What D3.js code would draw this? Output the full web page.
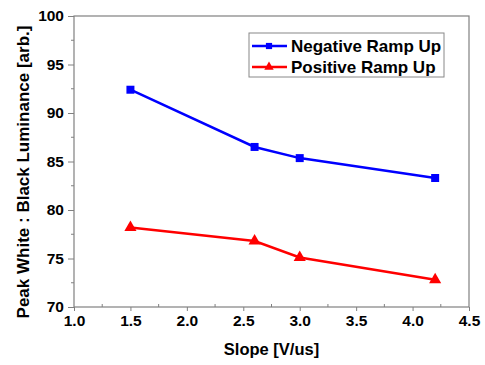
<!DOCTYPE html>
<html lang="en">
<head>
    <meta charset="UTF-8">
    <title>Peak White : Black Luminance</title>
    <style>
        body{margin:0;background:#fff;}
        #main{width:485px;height:365px;}
        text{font-family:Arial,"Liberation Sans",sans-serif;font-weight:bold;fill:#000;}
    </style>
</head>
<body>
<div id="main"></div>
<script src="https://d3js.org/d3.v7.min.js"></script>
<script>
    /*===== data =====*/
    const slopes=[1.5,2.6,3.0,4.2]
    const negativeRampUp=[92.4,86.5,85.35,83.3]
    const positiveRampUp=[78.2,76.8,75.1,72.8]
    const xTicks=[1.0,1.5,2.0,2.5,3.0,3.5,4.0,4.5]
    const yTicks=[70,75,80,85,90,95,100]
    const seriesNames=['Negative Ramp Up','Positive Ramp Up']

    const width=485, height=365
    const plot={left:74,right:469,top:16,bottom:307}

    const svg=d3.select('#main').append('svg')
        .attr('width',width)
        .attr('height',height)
        .attr('viewBox',`0 0 ${width} ${height}`)

    const xScale=d3.scaleLinear().domain([1.0,4.5]).range([plot.left,plot.right])
    const yScale=d3.scaleLinear().domain([70,100]).range([plot.bottom,plot.top])

    const axisColor='#808080'

    /* frame */
    svg.append('rect')
        .attr('x',plot.left).attr('y',plot.top)
        .attr('width',plot.right-plot.left).attr('height',plot.bottom-plot.top)
        .attr('fill','none').attr('stroke',axisColor).attr('stroke-width',1.2)

    /* x axis: major ticks down, minor ticks up */
    const xAxis=svg.append('g')
        .attr('transform',`translate(0,${plot.bottom})`)
        .call(d3.axisBottom(xScale).tickValues(xTicks).tickSize(4).tickPadding(4).tickFormat(d3.format('.1f')))
    xAxis.select('.domain').remove()
    xAxis.selectAll('line').attr('stroke',axisColor)
    xAxis.selectAll('text').style('font-size','15.5px')
    svg.append('g').selectAll('line')
        .data(xTicks.slice(0,-1).map(d=>d+0.25))
        .join('line')
        .attr('x1',d=>xScale(d)).attr('x2',d=>xScale(d))
        .attr('y1',plot.bottom).attr('y2',plot.bottom-3)
        .attr('stroke',axisColor)

    /* y axis: major and minor ticks out */
    const yAxis=svg.append('g')
        .attr('transform',`translate(${plot.left},0)`)
        .call(d3.axisLeft(yScale).tickValues(yTicks).tickSize(6).tickPadding(4))
    yAxis.select('.domain').remove()
    yAxis.selectAll('line').attr('stroke',axisColor)
    yAxis.selectAll('text').style('font-size','15.5px')
    svg.append('g').selectAll('line')
        .data(yTicks.slice(0,-1).map(d=>d+2.5))
        .join('line')
        .attr('x1',plot.left).attr('x2',plot.left-3)
        .attr('y1',d=>yScale(d)).attr('y2',d=>yScale(d))
        .attr('stroke',axisColor)

    /* axis titles */
    svg.append('text')
        .attr('x',(plot.left+plot.right)/2).attr('y',355)
        .attr('text-anchor','middle').style('font-size','16.5px')
        .text('Slope [V/us]')
    svg.append('text')
        .attr('transform','translate(25,172) rotate(-90)')
        .attr('text-anchor','middle').attr('dominant-baseline','middle')
        .style('font-size','17px')
        .text('Peak White : Black Luminance [arb.]')

    /* series */
    const line=d3.line().x(d=>xScale(d[0])).y(d=>yScale(d[1]))
    const series=[
        {name:seriesNames[0],values:negativeRampUp,color:'#0000ff',symbol:d3.symbolSquare,size:64},
        {name:seriesNames[1],values:positiveRampUp,color:'#ff0000',symbol:d3.symbolTriangle,size:64}
    ]
    series.forEach(s=>{
        const pts=slopes.map((x,i)=>[x,s.values[i]])
        svg.append('path')
            .attr('d',line(pts))
            .attr('fill','none').attr('stroke',s.color).attr('stroke-width',2.5)
        svg.append('g').selectAll('path')
            .data(pts)
            .join('path')
            .attr('transform',d=>`translate(${xScale(d[0])},${yScale(d[1])})`)
            .attr('d',d3.symbol().type(s.symbol).size(s.size))
            .attr('fill',s.color)
    })

    /* legend */
    const legend=svg.append('g').attr('transform','translate(249,33)')
    legend.append('rect')
        .attr('width',195).attr('height',44)
        .attr('fill','#fff').attr('stroke','#888').attr('stroke-width',1)
    series.forEach((s,i)=>{
        const y=13+i*21
        legend.append('line')
            .attr('x1',3).attr('x2',38).attr('y1',y).attr('y2',y)
            .attr('stroke',s.color).attr('stroke-width',2.5)
        legend.append('path')
            .attr('transform',`translate(20,${y})`)
            .attr('d',d3.symbol().type(s.symbol).size(s.size*0.6))
            .attr('fill',s.color)
        legend.append('text')
            .attr('x',42).attr('y',y).attr('dy','0.36em')
            .style('font-size','17px')
            .text(s.name)
    })
</script>
</body>
</html>
